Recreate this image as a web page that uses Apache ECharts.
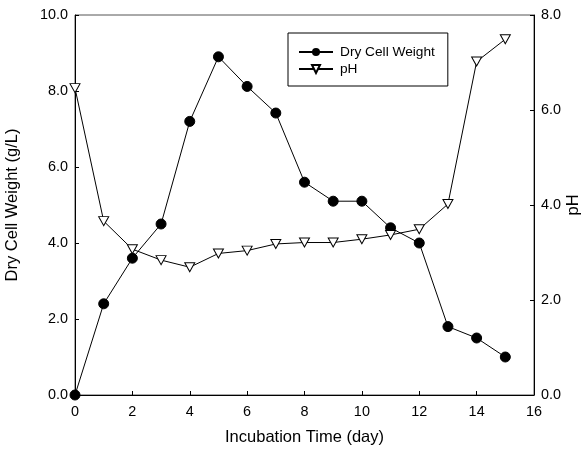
<!DOCTYPE html>
<html><head><meta charset="utf-8">
<script src="https://cdn.jsdelivr.net/npm/echarts@6/dist/echarts.min.js"></script>
<style>html,body{margin:0;padding:0;background:#fff}#c{width:581px;height:453px}</style>
</head><body><div id="c"></div>
<script>
const days = [0,1,2,3,4,5,6,7,8,9,10,11,12,13,14,15];
const dryCellWeight = [0,2.4,3.6,4.5,7.2,8.9,8.12,7.42,5.6,5.1,5.1,4.4,4.0,1.8,1.5,1.0];
const pH = [6.46,3.66,3.07,2.84,2.69,2.98,3.04,3.18,3.21,3.21,3.28,3.37,3.49,4.02,7.02,7.49];
const seriesNames = ['Dry Cell Weight','pH'];
const xTitle = 'Incubation Time (day)';
const yLeftTitle = 'Dry Cell Weight (g/L)';
const yRightTitle = 'pH';

const font = 'Liberation Sans, Arial, sans-serif';
const chart = echarts.init(document.getElementById('c'));
const axisLine = {show:true, onZero:false, lineStyle:{color:'#000', width:1}};
chart.setOption({
  animation:false,
  backgroundColor:'#fff',
  grid:{left:75, right:47, top:15, bottom:58, outerBoundsMode:'none', containLabel:false,
        show:true, borderColor:'#555', borderWidth:1},
  legend:{
    left:288, top:33, orient:'vertical',
    data:seriesNames, borderColor:'#000', borderWidth:1, padding:[12,13,10,10],
    itemWidth:34, itemHeight:10, itemGap:3,
    textStyle:{fontFamily:font, fontSize:13.7, color:'#000', padding:[0,0,0,2]}
  },
  xAxis:{type:'value', min:0, max:16, interval:2,
    name:xTitle, nameLocation:'middle', nameGap:34, nameMoveOverlap:false,
    nameTextStyle:{fontFamily:font, fontSize:16.5, color:'#000'},
    axisLine, axisTick:{inside:true, length:4, lineStyle:{color:'#000'}},
    axisLabel:{fontFamily:font, fontSize:14.4, color:'#000', margin:10},
    splitLine:{show:false}},
  yAxis:[
    {type:'value', min:0, max:10, interval:2, position:'left',
     name:yLeftTitle, nameLocation:'middle', nameGap:54, nameRotate:90, nameMoveOverlap:false,
     nameTextStyle:{fontFamily:font, fontSize:16.5, color:'#000'},
     axisLine, axisTick:{show:true, inside:true, length:4, lineStyle:{color:'#000'}},
     axisLabel:{fontFamily:font, fontSize:14.4, color:'#000', margin:7, formatter:v=>v.toFixed(1)},
     splitLine:{show:false}},
    {type:'value', min:0, max:8, interval:2, position:'right',
     name:yRightTitle, nameLocation:'middle', nameGap:31, nameRotate:90, nameMoveOverlap:false,
     nameTextStyle:{fontFamily:font, fontSize:16.5, color:'#000'},
     axisLine, axisTick:{show:true, inside:true, length:4, lineStyle:{color:'#000'}},
     axisLabel:{fontFamily:font, fontSize:14.4, color:'#000', margin:7, formatter:v=>v.toFixed(1)},
     splitLine:{show:false}}
  ],
  series:[
    {name:seriesNames[0], type:'line', yAxisIndex:0,
     data:days.map((d,i)=>[d,dryCellWeight[i]]),
     symbol:'circle', symbolSize:10, lineStyle:{color:'#000', width:1},
     itemStyle:{color:'#000', borderColor:'#000'}, z:3},
    {name:seriesNames[1], type:'line', yAxisIndex:1,
     data:days.map((d,i)=>[d,pH[i]]),
     symbol:'triangle', symbolRotate:180, symbolSize:[10,9], lineStyle:{color:'#000', width:1},
     itemStyle:{color:'#fff', borderColor:'#000', borderWidth:1}, z:4}
  ]
});
</script></body></html>
